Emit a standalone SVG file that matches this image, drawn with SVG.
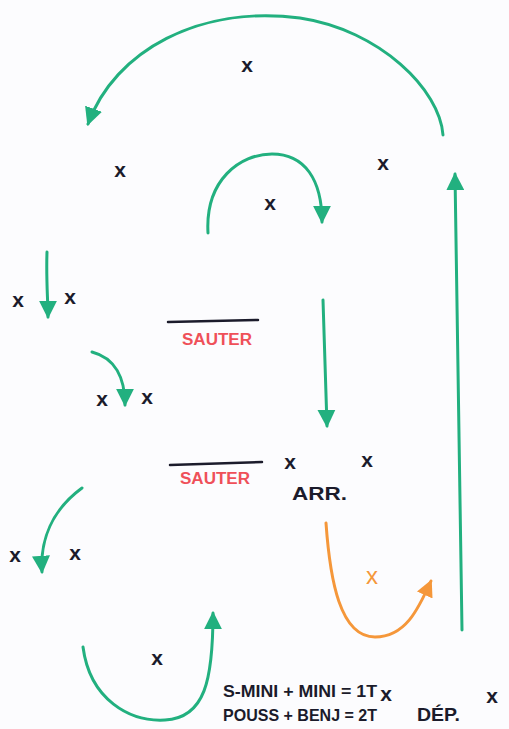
<svg xmlns="http://www.w3.org/2000/svg" width="509" height="729" viewBox="0 0 509 729">
<style>
.g{fill:none;stroke:#22b07f;stroke-width:3;stroke-linecap:round;marker-end:url(#ag)}
.o{fill:none;stroke:#f5973a;stroke-width:3;stroke-linecap:round;marker-end:url(#ao)}
.x{font-family:"Liberation Sans",Arial,sans-serif;font-weight:bold;font-size:21px;fill:#1b1b2b;text-anchor:middle}
.lbl{font-family:"Liberation Sans",Arial,sans-serif;font-weight:bold;fill:#1b1b2b}
.red{font-family:"Liberation Sans",Arial,sans-serif;font-weight:bold;font-size:16px;fill:#ef5059}
.bar{stroke:#1b1b2b;stroke-width:2.5;stroke-linecap:round}
</style>
<defs>
<marker id="ag" viewBox="0 0 10 10" refX="9" refY="5" markerWidth="18" markerHeight="18" markerUnits="userSpaceOnUse" orient="auto"><path d="M0,0 L10,5 L0,10 z" fill="#22b07f"/></marker>
<marker id="ao" viewBox="0 0 10 10" refX="9" refY="5" markerWidth="17" markerHeight="17" markerUnits="userSpaceOnUse" orient="auto"><path d="M0,0 L10,5 L0,10 z" fill="#f5973a"/></marker>
</defs>
<rect width="509" height="729" fill="#fcfcfe"/>
<g id="connectors">
<path class="g" d="M443,135 C440,90 380,30 300,18 C200,5 115,50 88,124"/>
<path class="g" d="M208,233 C205,180 240,154 272,154 C305,154 322,180 322,222"/>
<path class="g" d="M462,630 C460,500 458,350 455,174"/>
<path class="g" d="M323,300 L327,426"/>
<path class="g" d="M47,252 C46,280 48,300 48,317"/>
<path class="g" d="M92,352 C115,358 125,378 125,405"/>
<path class="g" d="M82,488 C52,510 40,540 42,572"/>
<path class="g" d="M83,647 C90,700 130,722 165,720 C205,718 213,680 213,613"/>
<path class="o" d="M326,523 C330,580 340,637 375,637 C405,637 418,610 431,581"/>
</g>
<g id="players">
<text class="x" x="247" y="72">x</text>
<text class="x" x="120" y="177">x</text>
<text class="x" x="383" y="170">x</text>
<text class="x" x="270" y="210">x</text>
<text class="x" x="18" y="307">x</text>
<text class="x" x="70" y="304">x</text>
<text class="x" x="102" y="406">x</text>
<text class="x" x="147" y="404">x</text>
<text class="x" x="290" y="469">x</text>
<text class="x" x="367" y="467">x</text>
<text class="x" x="15" y="562">x</text>
<text class="x" x="75" y="560">x</text>
<text class="x" x="157" y="665">x</text>
<text class="x" x="386" y="701">x</text>
<text class="x" x="492" y="703">x</text>
<text class="x" x="372" y="584" style="fill:#f5973a;font-weight:normal;font-size:24px">x</text>
</g>
<g id="sauter1">
<line class="bar" x1="168" y1="322" x2="258" y2="320"/>
<text class="red" x="182" y="345" textLength="70" lengthAdjust="spacingAndGlyphs">SAUTER</text>
</g>
<g id="sauter2">
<line class="bar" x1="170" y1="465" x2="262" y2="462"/>
<text class="red" x="180" y="484" textLength="70" lengthAdjust="spacingAndGlyphs">SAUTER</text>
</g>
<g id="arr">
<text class="lbl" x="292" y="500" font-size="19" textLength="55" lengthAdjust="spacingAndGlyphs">ARR.</text>
</g>
<g id="dep">
<text class="lbl" x="417" y="721" font-size="18" textLength="43" lengthAdjust="spacingAndGlyphs">DÉP.</text>
</g>
<g id="legend">
<text class="lbl" x="223" y="697" font-size="17" textLength="154" lengthAdjust="spacingAndGlyphs">S-MINI + MINI = 1T</text>
<text class="lbl" x="223" y="721" font-size="17" textLength="154" lengthAdjust="spacingAndGlyphs">POUSS + BENJ = 2T</text>
</g>
</svg>
